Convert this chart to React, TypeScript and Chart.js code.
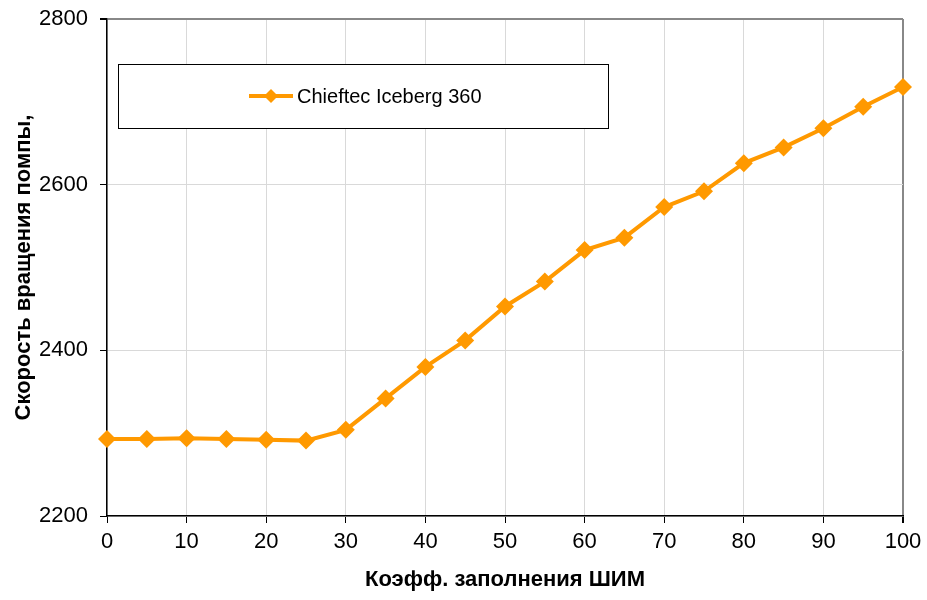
import React, { useEffect, useRef } from 'react'
import { Chart, registerables, type Plugin } from 'chart.js'

Chart.register(...registerables)

const pwmDuty = [0, 5, 10, 15, 20, 25, 30, 35, 40, 45, 50, 55, 60, 65, 70, 75, 80, 85, 90, 95, 100]
const pumpRpm = [2293, 2293, 2294, 2293, 2292, 2291, 2304, 2342, 2380, 2412, 2453, 2483, 2521, 2536, 2573, 2592, 2626, 2645, 2668, 2694, 2718]
const seriesName = 'Chieftec Iceberg 360'
const xTitle = 'Коэфф. заполнения ШИМ'
const yTitle = 'Скорость вращения помпы,'

const ORANGE = '#FF9900'
const FONT = '"Liberation Sans", Arial, sans-serif'

// legend box drawn inside the plot area
const boxLegend: Plugin<'line'> = {
  id: 'boxLegend',
  afterDraw: (chart) => {
    const { ctx, chartArea } = chart
    const x = chartArea.left + 11
    const y = chartArea.top + 45
    const w = 490
    const h = 64
    ctx.save()
    ctx.fillStyle = '#fff'
    ctx.fillRect(x, y, w, h)
    ctx.strokeStyle = '#000'
    ctx.lineWidth = 1
    ctx.strokeRect(x + 0.5, y + 0.5, w, h)
    const cy = y + h / 2
    const lx = x + 131
    ctx.strokeStyle = ORANGE
    ctx.lineWidth = 4
    ctx.beginPath()
    ctx.moveTo(lx, cy)
    ctx.lineTo(lx + 44, cy)
    ctx.stroke()
    ctx.fillStyle = ORANGE
    ctx.beginPath()
    ctx.moveTo(lx + 22, cy - 7)
    ctx.lineTo(lx + 29, cy)
    ctx.lineTo(lx + 22, cy + 7)
    ctx.lineTo(lx + 15, cy)
    ctx.closePath()
    ctx.fill()
    ctx.fillStyle = '#000'
    ctx.font = `20px ${FONT}`
    ctx.textBaseline = 'middle'
    ctx.fillText(seriesName, lx + 48, cy + 1)
    ctx.restore()
  }
}

const App: React.FC = () => {
  const canvasRef = useRef<HTMLCanvasElement | null>(null)
  const chartRef = useRef<Chart<'line'> | null>(null)

  useEffect(() => {
    document.body.style.margin = '0'
    if (canvasRef.current === null) return
    if (chartRef.current !== null) chartRef.current.destroy()

    chartRef.current = new Chart(canvasRef.current, {
      type: 'line',
      data: {
        datasets: [
          {
            label: seriesName,
            data: pwmDuty.map((d, i) => ({ x: d, y: pumpRpm[i] })),
            borderColor: ORANGE,
            backgroundColor: ORANGE,
            borderWidth: 4,
            pointStyle: 'rectRot',
            pointRadius: 9,
            pointHoverRadius: 9,
            pointBorderWidth: 0,
            tension: 0,
            clip: false
          }
        ]
      },
      options: {
        responsive: false,
        animation: false,
        layout: { padding: { left: 0, right: 24, top: 19, bottom: 0 } },
        plugins: { legend: { display: false }, tooltip: { enabled: false } },
        scales: {
          x: {
            type: 'linear',
            min: 0,
            max: 100,
            afterFit: (s) => {
              s.height = 84
              s.paddingLeft = 0
              s.paddingRight = 0
            },
            ticks: { stepSize: 10, color: '#000', font: { family: FONT, size: 22 }, padding: 6 },
            grid: {
              color: (c) => (c.tick.value === 100 ? '#888' : '#d9d9d9'),
              tickColor: '#000',
              tickLength: 7,
              lineWidth: (c) => (c.tick.value === 100 ? 2 : 1)
            },
            border: { color: '#000', width: 1.5 },
            title: { display: true, text: xTitle, color: '#000', font: { family: FONT, size: 22, weight: 'bold' }, padding: { top: 0, bottom: 7 } }
          },
          y: {
            min: 2200,
            max: 2800,
            afterFit: (s) => {
              s.width = 107
              s.paddingTop = 0
              s.paddingBottom = 0
            },
            ticks: {
              stepSize: 200,
              color: '#000',
              font: { family: FONT, size: 22 },
              padding: 12,
              callback: (v) => String(v)
            },
            grid: {
              color: (c) => (c.tick.value === 2800 ? '#888' : '#d9d9d9'),
              tickColor: '#000',
              tickLength: 7,
              lineWidth: (c) => (c.tick.value === 2800 ? 2 : 1)
            },
            border: { color: '#000', width: 1.5 },
            title: { display: true, text: yTitle, color: '#000', font: { family: FONT, size: 22, weight: 'bold' }, padding: { top: 11, bottom: 0 } }
          }
        }
      },
      plugins: [boxLegend]
    })

    return () => {
      if (chartRef.current !== null) {
        chartRef.current.destroy()
        chartRef.current = null
      }
    }
  }, [])

  return (
    <div style={{ width: 927, height: 600, background: '#fff' }}>
      <canvas ref={canvasRef} width={927} height={600} />
    </div>
  )
}

export default App
